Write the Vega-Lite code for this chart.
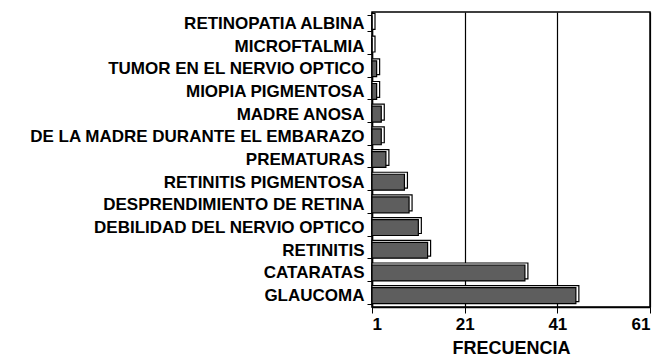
{
  "$schema": "https://vega.github.io/schema/vega-lite/v6.json",
  "autosize": {"type": "none"},
  "padding": {"left": 372, "top": 12, "right": 7, "bottom": 54},
  "width": 278,
  "height": 295,
  "background": "white",
  "config": {
    "view": {"stroke": "black", "strokeWidth": 1.5},
    "font": "Liberation Sans"
  },
  "data": {
    "values": [
      {"causa": "RETINOPATIA ALBINA", "frecuencia": 1},
      {"causa": "MICROFTALMIA", "frecuencia": 1},
      {"causa": "TUMOR EN EL NERVIO OPTICO", "frecuencia": 2},
      {"causa": "MIOPIA PIGMENTOSA", "frecuencia": 2},
      {"causa": "MADRE ANOSA", "frecuencia": 3},
      {"causa": "DE LA MADRE DURANTE EL EMBARAZO", "frecuencia": 3},
      {"causa": "PREMATURAS", "frecuencia": 4},
      {"causa": "RETINITIS PIGMENTOSA", "frecuencia": 8},
      {"causa": "DESPRENDIMIENTO DE RETINA", "frecuencia": 9},
      {"causa": "DEBILIDAD DEL NERVIO OPTICO", "frecuencia": 11},
      {"causa": "RETINITIS", "frecuencia": 13},
      {"causa": "CATARATAS", "frecuencia": 34},
      {"causa": "GLAUCOMA", "frecuencia": 45}
    ]
  },
  "encoding": {
    "y": {
      "field": "causa",
      "type": "nominal",
      "sort": null,
      "scale": {"paddingInner": 0.3, "paddingOuter": 0.15},
      "axis": {
        "title": null,
        "labelFontSize": 17,
        "labelFontWeight": "bold",
        "labelColor": "black",
        "labelLimit": 0,
        "labelPadding": 3,
        "tickBand": "extent",
        "tickColor": "black",
        "tickSize": 5,
        "domainColor": "black",
        "domainWidth": 1.5
      }
    },
    "x": {
      "field": "frecuencia",
      "type": "quantitative",
      "scale": {"domain": [1, 61], "zero": false, "nice": false},
      "axis": {
        "title": "FRECUENCIA",
        "titleFontSize": 18,
        "titleFontWeight": "bold",
        "titleColor": "black",
        "titlePadding": 7,
        "values": [1, 21, 41, 61],
        "labelFontSize": 17,
        "labelFontWeight": "bold",
        "labelColor": "black",
        "labelPadding": 3,
        "tickColor": "black",
        "tickSize": 6,
        "domainColor": "black",
        "domainWidth": 1.5,
        "grid": true,
        "gridColor": "black",
        "gridWidth": 1.2,
        "gridOpacity": 1
      }
    },
    "x2": {"datum": 1}
  },
  "layer": [
    {"mark": {"type": "bar", "fill": "white", "stroke": "black", "strokeWidth": 1.2, "xOffset": 3, "yOffset": -2}},
    {"mark": {"type": "bar", "fill": "#5e5e5e", "stroke": "black", "strokeWidth": 1.2}}
  ]
}
